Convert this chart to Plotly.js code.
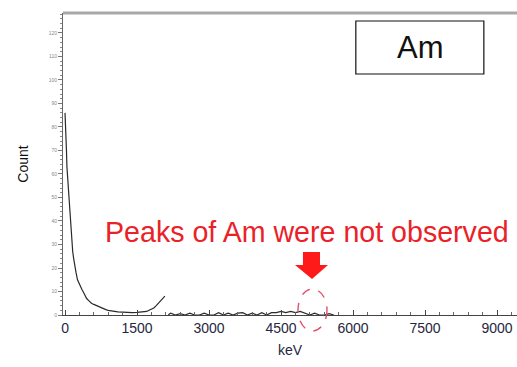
<!DOCTYPE html>
<html>
<head>
<meta charset="utf-8">
<script src="https://cdn.plot.ly/plotly-3.0.1.min.js"></script>
<style>
  html, body { margin: 0; padding: 0; background: #fff; }
  #chart { width: 517px; height: 367px; }
</style>
</head>
<body>
<div id="chart"></div>
<script>
// Gamma spectrum of the Am sample: energy (keV) vs counts.
// A null entry separates the low-energy segment from the sparse high-energy tail.
const energyKeV = [
  0, 10, 20, 30, 40, 50, 60, 70, 80, 90, 100, 120, 140, 160, 180, 200, 230, 260,
  300, 350, 400, 450, 500, 550, 600, 650, 700, 750, 800, 850, 900, 950, 1000,
  1100, 1200, 1300, 1400, 1500, 1600, 1700, 1750, 1800, 1850, 1900, 1950, 2000,
  2050, 2080, 2090,
  2150, 2200, 2300, 2400, 2500, 2600, 2700, 2800, 2900, 3000, 3100, 3200, 3300,
  3400, 3500, 3600, 3700, 3800, 3900, 4000, 4100, 4200, 4300, 4400, 4500, 4600,
  4700, 4800, 4900, 5000, 5100, 5200, 5300, 5400, 5500, 5600
];
const counts = [
  86, 82, 76, 70, 63, 60, 56, 52, 48, 45, 42, 36, 31, 27, 24, 21, 18, 15,
  13, 11, 9, 7, 6, 5, 4.5, 4, 3.5, 3, 2.5, 2.3, 2, 1.8, 1.5,
  1.3, 1.2, 1, 1, 1.1, 1.2, 1.5, 2, 2.5, 3, 4, 5, 6,
  7, 8, null,
  0, 0.8, 0, 0.6, 0, 0.8, 0, 0, 0.8, 0, 0, 1, 0,
  0.8, 0, 0.8, 1, 0, 0.8, 0, 1, 0, 1, 1, 1.5, 1,
  1.5, 1, 1.5, 0.8, 0, 0.8, 0, 0, 0.6, 0
];

// Axis ticks
const xTickVals = [0, 1500, 3000, 4500, 6000, 7500, 9000];
const xTickText = ['0', '1500', '3000', '4500', '6000', '7500', '9000'];
const yTickVals = [0, 10, 20, 30, 40, 50, 60, 70, 80, 90, 100, 110, 120];

// Labels
const sampleLabel = 'Am';
const noteText = 'Peaks of Am were not observed';
const xTitle = 'keV';
const yTitle = 'Count';

const red = '#ea2228';
const font = 'Liberation Sans, Arial, sans-serif';

const trace = {
  x: energyKeV,
  y: counts,
  type: 'scatter',
  mode: 'lines',
  connectgaps: false,
  line: { color: '#2a2a2a', width: 1.2 },
  hoverinfo: 'x+y'
};

const layout = {
  width: 517,
  height: 367,
  margin: { l: 63, r: 0, t: 13, b: 52, pad: 0 },
  paper_bgcolor: '#ffffff',
  plot_bgcolor: '#ffffff',
  showlegend: false,
  font: { family: font, color: '#1f2740' },
  xaxis: {
    range: [-42, 9415],
    tickvals: xTickVals,
    ticktext: xTickText,
    ticks: 'inside',
    ticklen: 5,
    tickcolor: '#444',
    minor: { dtick: 300, tick0: 0, ticks: 'inside', ticklen: 3, tickcolor: '#666' },
    showline: true,
    linecolor: '#444',
    linewidth: 1,
    showgrid: false,
    zeroline: false,
    tickfont: { size: 14, color: '#1f2740', family: font },
    title: { text: xTitle, font: { size: 14, color: '#1f2740', family: font }, standoff: 10 }
  },
  yaxis: {
    range: [0, 128.5],
    tickvals: yTickVals,
    ticks: 'outside',
    ticklen: 4,
    tickcolor: '#777',
    minor: { dtick: 2, tick0: 0, ticks: 'outside', ticklen: 2.5, tickcolor: '#888' },
    showline: true,
    linecolor: '#666',
    linewidth: 1,
    showgrid: false,
    zeroline: false,
    tickfont: { size: 5, color: '#888', family: font },
    title: { text: yTitle, font: { size: 14, color: '#111', family: font }, standoff: 16 }
  },
  shapes: [
    // grey frame along the top of the plot
    { type: 'line', xref: 'paper', yref: 'paper', x0: 0, x1: 1, y0: 1, y1: 1,
      line: { color: '#a8a8a8', width: 3 } },
    // sample label box
    { type: 'rect', xref: 'paper', yref: 'paper', x0: 0.645, x1: 0.927, y0: 0.798, y1: 0.9735,
      line: { color: '#111', width: 1.2 }, fillcolor: '#ffffff' },
    // red pointer arrow
    { type: 'path', xref: 'paper', yref: 'paper',
      path: 'M 0.5286 0.2086 L 0.5661 0.2086 L 0.5661 0.1656 L 0.5837 0.1656 L 0.5485 0.1192 L 0.5110 0.1656 L 0.5286 0.1656 Z',
      fillcolor: '#ff1a1a', line: { width: 0 } },
    // dashed ellipse around the expected Am region
    { type: 'circle', xref: 'paper', yref: 'paper', x0: 0.5176, x1: 0.5815, y0: -0.053, y1: 0.0861,
      line: { color: '#e0506a', width: 1.4, dash: 'dash' } }
  ],
  annotations: [
    { xref: 'paper', yref: 'paper', x: 0.7885, y: 0.8874, text: sampleLabel, showarrow: false,
      font: { size: 31, color: '#111', family: font }, xanchor: 'center', yanchor: 'middle' },
    { xref: 'paper', yref: 'paper', x: 0.5385, y: 0.2748, text: noteText, showarrow: false,
      font: { size: 28.6, color: red, family: font }, xanchor: 'center', yanchor: 'middle' }
  ]
};

Plotly.newPlot('chart', [trace], layout, { displayModeBar: false, staticPlot: true });
</script>
</body>
</html>
